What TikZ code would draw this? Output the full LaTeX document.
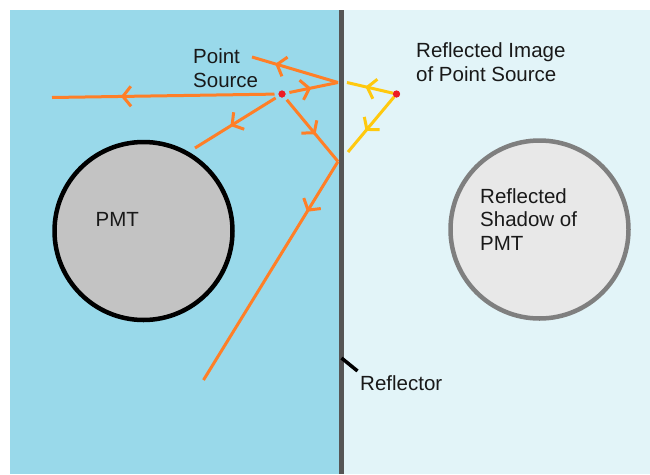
\documentclass[tikz,border=0pt]{standalone}
\usepackage{fontspec}
\setmainfont{Liberation Sans}
\usetikzlibrary{arrows.meta,decorations.markings}
\definecolor{bgleft}{HTML}{99D9EA}
\definecolor{bgright}{HTML}{E2F4F8}
\definecolor{divgray}{HTML}{555555}
\definecolor{pmtfill}{HTML}{C3C3C3}
\definecolor{shfill}{HTML}{E8E8E8}
\definecolor{shdraw}{HTML}{7F7F7F}
\definecolor{rayorange}{HTML}{FF7F27}
\definecolor{rayyellow}{HTML}{FFC90E}
\definecolor{dotred}{HTML}{ED1C24}
\tikzset{
  chev/.tip={Straight Barb[length=8pt,width=20pt]},
  midarrow/.style={postaction={decorate,decoration={markings,mark=at position #1 with {\arrow{chev}}}}},
  oray/.style={draw=rayorange,line width=3pt},
  yray/.style={draw=rayyellow,line width=3pt},
  srcdot/.style={circle,fill=dotred,inner sep=0pt,minimum size=7pt,outer sep=4pt},
  imgdot/.style={circle,fill=dotred,inner sep=0pt,minimum size=7pt,outer sep=0pt},
  lbl/.style={inner sep=0pt,font=\fontsize{20.5}{23.5}\selectfont,align=left,anchor=base west,text=black!90},
}
\begin{document}
\begin{tikzpicture}[x=1pt,y=-1pt]
\useasboundingbox (0,0) rectangle (650,474);
% backgrounds
\fill[bgleft] (10,10) rectangle (341.5,474);
\fill[bgright] (341.5,10) rectangle (650,474);
\draw[divgray,line width=5pt] (341.5,10) -- (341.5,474);
% circles
\node[circle,draw=black,line width=4.5pt,fill=pmtfill,minimum size=178pt,inner sep=0pt] (pmt) at (143.5,231) {};
\node[circle,draw=shdraw,line width=4.5pt,fill=shfill,minimum size=178pt,inner sep=0pt] (shadow) at (539.5,229.5) {};
% coordinates
\node[srcdot] (src) at (282,94) {};
\node[imgdot] (img) at (396.5,94) {};
\coordinate (r1) at (338,82.5);
\coordinate (r2) at (338,161.5);
\coordinate (y1) at (347,82.5);
\coordinate (y2) at (348,152);
\coordinate (aend) at (52,97.5);
\coordinate (bend) at (195,148);
\coordinate (dend) at (252,57);
\coordinate (fend) at (203.5,380);
% orange rays
\draw[oray,midarrow=0.69] (src) -- (aend);
\draw[oray,midarrow=0.56] (src) -- (bend);
\draw[oray,midarrow=0.45] (src) -- (r1);
\draw[oray,midarrow=0.73] (r1) -- (dend);
\draw[oray,midarrow=0.56] (src) -- (r2);
\draw[oray,midarrow=0.23] (r2) -- (fend);
% yellow rays
\draw[yray,midarrow=0.6] (img) -- (y1);
\draw[yray,midarrow=0.62] (img) -- (y2);
% redraw dots on top
\node[srcdot] at (src) {};
\node[imgdot] at (img) {};
% reflector pointer
\coordinate (rp1) at (341.5,358);
\coordinate (rp2) at (357.5,371);
\draw[black,line width=3.5pt] (rp1) -- (rp2);
% labels (anchor = baseline of the last line)
\node[lbl] (lps) at (193,87) {Point\\Source};
\node[lbl] (lri) at (416,81) {Reflected Image\\of Point Source};
\node[lbl] (lpmt) at (95.5,226) {PMT};
\node[lbl] (lrs) at (480,250) {Reflected\\Shadow of\\PMT};
\node[lbl] (lref) at (360,390.5) {Reflector};
\end{tikzpicture}
\end{document}
